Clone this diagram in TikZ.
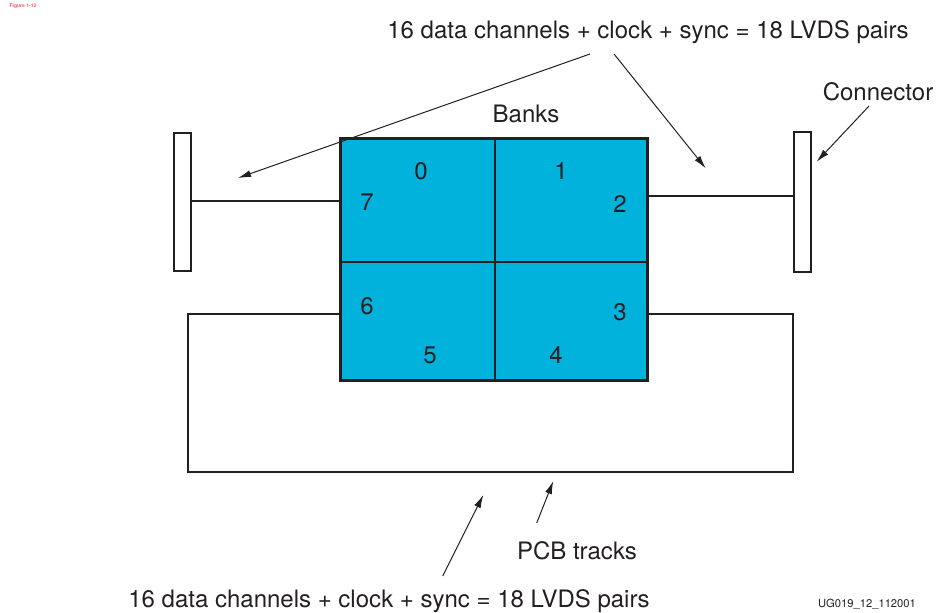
\documentclass[tikz,border=0pt]{standalone}
\usepackage{fontspec}
\setmainfont{TeX Gyre Heros}
\usetikzlibrary{arrows.meta}
\definecolor{bankblue}{RGB}{0,178,220}
\definecolor{figred}{RGB}{240,90,90}
\definecolor{ink}{RGB}{35,31,32}
\begin{document}
\begin{tikzpicture}[x=0.5pt,y=-0.5pt,draw=ink,text=ink,
    track/.style={line width=1pt},
    pointer/.style={-{Latex[length=6.5pt,width=3.5pt]},line width=0.5pt},
    conn/.style={draw,line width=1pt,fill=white,inner sep=0pt,
                 minimum width=8.6pt,minimum height=69pt},
    lbl/.style={font=\fontsize{12}{14}\selectfont,inner sep=0pt}]
  \useasboundingbox (0,0) rectangle (936,613);

  \node[font=\bfseries\fontsize{2.5}{3}\selectfont,text=figred,inner sep=0pt] (fig) at (23,6) {Figure 1-12};

  % the banks
  \node[draw,line width=1.5pt,fill=bankblue,inner sep=0pt,
        minimum width=153.8pt,minimum height=121pt] (banks) at (494,260) {};
  \draw[line width=1pt] (495,139) -- (495,381)
                        (banks.west |- 0,262) -- (banks.east |- 0,262);
  \foreach \name/\pos in {0/{421,171},1/{561,171},2/{620,204},3/{620,312},
                          4/{556,355},5/{430,355},6/{367,306},7/{367,202}}
    \node[lbl] (n\name) at (\pos) {\name};

  % connectors and tracks
  \node[conn] (lconn) at (182.4,202) {};
  \node[conn,minimum height=70pt] (rconn) at (802.2,202.5) {};
  \draw[track] (lconn.east |- 0,200.7) -- (banks.west |- 0,200.7);
  \draw[track] (banks.east |- 0,196) -- (rconn.west |- 0,196);
  \coordinate (bl) at (188.3,472.5);
  \coordinate (br) at (792.5,472.5);
  \draw[track] (banks.west |- 0,314) -| (bl) -- (br) |- (banks.east |- 0,314);

  % labels
  \node[lbl] (toplbl) at (648,32) {16 data channels + clock + sync = 18 LVDS pairs};
  \node[lbl] (botlbl) at (389,601) {16 data channels + clock + sync = 18 LVDS pairs};
  \node[lbl] (bankslbl) at (526,114) {Banks};
  \node[lbl] (connlbl) at (878,92) {Connector};
  \node[lbl] (pcblbl) at (577,551) {PCB tracks};
  \node[font=\fontsize{5.6}{6}\selectfont,inner sep=0pt] (ug) at (867,604) {UG019\_12\_112001};

  % pointers
  \coordinate (tl) at (590,54);   \coordinate (tlend) at (238,178);
  \coordinate (tr) at (614,54);   \coordinate (trend) at (705.7,168.3);
  \coordinate (cs) at (869,106);  \coordinate (cend) at (816.7,161.7);
  \coordinate (bs) at (442.7,576);\coordinate (bend) at (483.3,495);
  \coordinate (ps) at (536.7,523);\coordinate (pend) at (553.3,481);
  \path[pointer] (tl) edge (tlend)
                 (tr) edge (trend)
                 (cs) edge (cend)
                 (bs) edge (bend)
                 (ps) edge (pend);
\end{tikzpicture}
\end{document}
